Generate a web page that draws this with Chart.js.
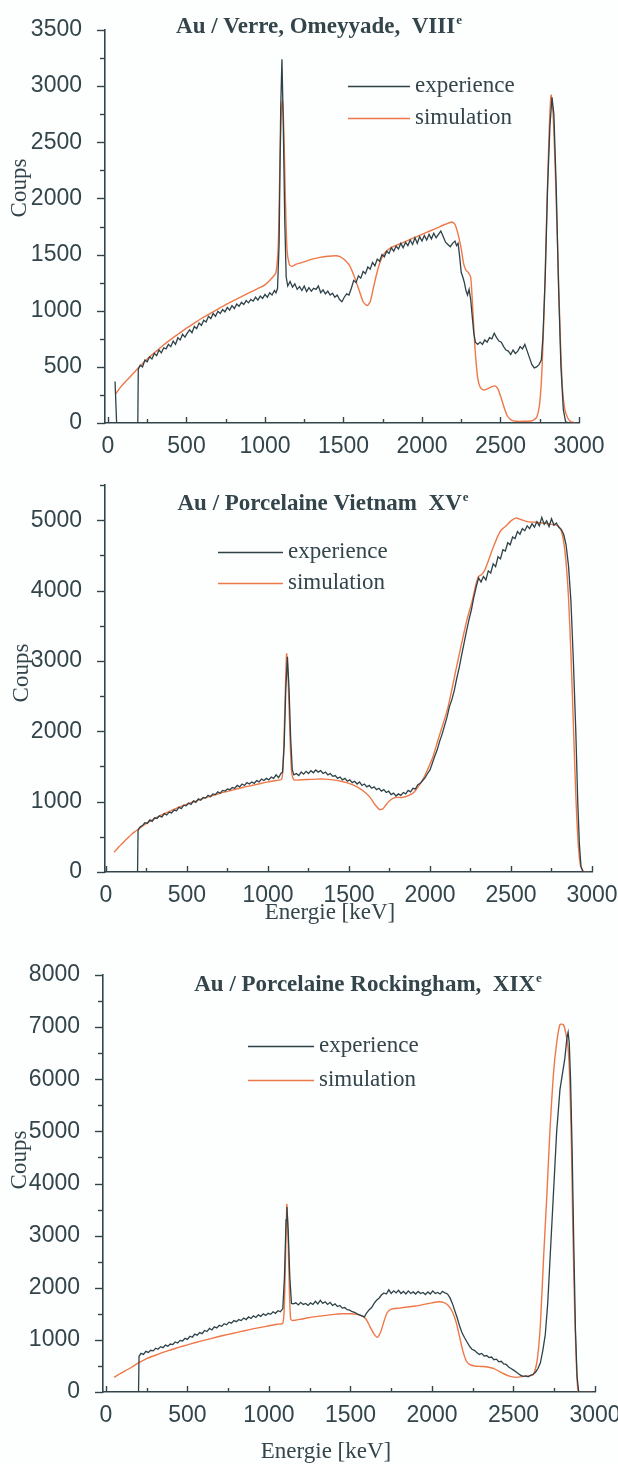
<!DOCTYPE html>
<html>
<head>
<meta charset="utf-8">
<script src="https://cdn.jsdelivr.net/npm/chart.js@4/dist/chart.umd.min.js"></script>
<style>
  body { margin: 0; background: #fdfefe; width: 618px; height: 1464px; overflow: hidden; }
  canvas { position: absolute; left: 0; }
</style>
</head>
<body>
<canvas id="verre" width="618" height="470" style="top:0px"></canvas>
<canvas id="vietnam" width="618" height="465" style="top:470px"></canvas>
<canvas id="rockingham" width="618" height="529" style="top:935px"></canvas>
<script>
'use strict';

const energyTicks = [0, 500, 1000, 1500, 2000, 2500, 3000];
const seriesLabels = ['experience', 'simulation'];

// Au / Verre, Omeyyade  [keV, coups]
const verreExp = [[45,370],[55,0],[190,0],[193,480],[205,515],[220,500],[235,560],[250,545],[265,590],[280,570],[295,620],[310,600],[325,650],[340,625],[355,670],[370,660],[385,700],[400,680],[415,730],[430,700],[445,760],[460,740],[475,790],[490,765],[505,800],[520,830],[535,805],[550,860],[565,840],[580,890],[595,870],[610,915],[625,900],[640,950],[655,930],[670,975],[685,950],[700,995],[715,975],[730,1010],[745,990],[760,1030],[775,1005],[790,1045],[805,1020],[820,1060],[835,1040],[850,1075],[865,1055],[880,1090],[895,1070],[910,1100],[925,1085],[940,1120],[955,1095],[970,1130],[985,1110],[1000,1145],[1015,1120],[1030,1160],[1045,1140],[1060,1180],[1070,1160],[1080,1200],[1090,1600],[1100,2800],[1108,3240],[1116,2700],[1126,1800],[1135,1300],[1145,1220],[1160,1260],[1175,1210],[1190,1240],[1205,1190],[1220,1215],[1235,1180],[1250,1220],[1265,1170],[1280,1205],[1295,1175],[1310,1200],[1325,1190],[1340,1220],[1355,1160],[1370,1185],[1385,1150],[1400,1175],[1415,1140],[1430,1155],[1445,1120],[1460,1140],[1475,1100],[1490,1080],[1505,1120],[1520,1150],[1535,1140],[1550,1200],[1565,1270],[1580,1250],[1595,1310],[1610,1290],[1625,1350],[1640,1330],[1655,1390],[1670,1370],[1685,1430],[1700,1400],[1715,1460],[1730,1440],[1745,1500],[1760,1480],[1775,1530],[1790,1510],[1805,1560],[1820,1530],[1835,1575],[1850,1550],[1865,1600],[1880,1560],[1895,1610],[1910,1580],[1925,1630],[1940,1590],[1955,1650],[1970,1600],[1985,1660],[2000,1620],[2015,1670],[2030,1630],[2045,1680],[2060,1640],[2075,1690],[2090,1650],[2105,1680],[2120,1710],[2135,1660],[2150,1610],[2165,1590],[2180,1570],[2195,1600],[2210,1620],[2220,1580],[2230,1600],[2240,1480],[2250,1340],[2260,1300],[2270,1250],[2280,1180],[2290,1140],[2300,1190],[2310,1100],[2320,950],[2330,800],[2340,720],[2355,700],[2370,720],[2385,700],[2400,740],[2415,720],[2430,760],[2445,750],[2460,800],[2475,760],[2490,730],[2505,720],[2520,680],[2535,650],[2550,640],[2565,610],[2580,650],[2595,620],[2610,640],[2625,680],[2640,660],[2655,700],[2670,640],[2685,580],[2700,520],[2715,490],[2730,500],[2745,520],[2760,560],[2770,760],[2785,1300],[2800,2100],[2815,2650],[2828,2900],[2840,2750],[2855,2100],[2870,1200],[2885,500],[2900,120],[2915,10],[2940,0],[2980,0]];
const verreSim = [[50,260],[80,320],[120,380],[160,440],[200,500],[250,570],[300,630],[350,690],[400,745],[450,795],[500,845],[550,890],[600,935],[650,975],[700,1015],[750,1055],[800,1090],[850,1125],[900,1160],[950,1195],[1000,1230],[1050,1300],[1070,1340],[1085,1600],[1095,2300],[1105,2800],[1112,2870],[1120,2600],[1130,2000],[1140,1550],[1155,1410],[1170,1395],[1200,1415],[1250,1435],[1300,1460],[1350,1475],[1400,1485],[1450,1490],[1480,1480],[1510,1450],[1540,1400],[1570,1300],[1600,1180],[1625,1080],[1650,1045],[1670,1080],[1690,1200],[1710,1320],[1730,1420],[1760,1510],[1800,1560],[1850,1590],[1900,1620],[1950,1650],[2000,1680],[2050,1710],[2100,1740],[2150,1770],[2190,1790],[2210,1770],[2230,1680],[2250,1550],[2265,1420],[2280,1360],[2295,1340],[2310,1300],[2320,1100],[2330,850],[2340,620],[2355,400],[2370,320],[2390,295],[2410,300],[2440,320],[2465,330],[2485,300],[2505,220],[2525,130],[2545,60],[2570,25],[2600,15],[2650,15],[2700,20],[2730,50],[2750,180],[2765,500],[2780,1100],[2795,1900],[2810,2600],[2822,2920],[2835,2750],[2850,2200],[2865,1500],[2880,800],[2895,300],[2910,120],[2930,40],[2950,10],[2980,0]];

// Au / Porcelaine Vietnam
const vietnamExp = [[50,0],[195,0],[198,590],[210,640],[225,660],[240,700],[255,690],[270,740],[285,720],[300,770],[315,760],[330,800],[345,780],[360,830],[375,810],[390,850],[405,840],[420,880],[435,870],[450,920],[465,900],[480,950],[495,940],[510,980],[525,960],[540,1010],[555,990],[570,1040],[585,1020],[600,1060],[615,1050],[630,1090],[645,1070],[660,1110],[675,1100],[690,1140],[705,1120],[720,1160],[735,1150],[750,1180],[765,1170],[780,1200],[795,1190],[810,1230],[825,1210],[840,1250],[855,1230],[870,1270],[885,1250],[900,1280],[915,1260],[930,1300],[945,1280],[960,1320],[975,1300],[990,1330],[1005,1310],[1020,1350],[1035,1330],[1050,1380],[1065,1340],[1080,1400],[1090,1420],[1100,1800],[1110,2600],[1120,3060],[1130,2600],[1140,1900],[1150,1450],[1160,1380],[1175,1400],[1190,1370],[1205,1420],[1220,1390],[1235,1430],[1250,1400],[1265,1440],[1280,1410],[1295,1450],[1310,1420],[1325,1440],[1340,1400],[1355,1420],[1370,1380],[1385,1400],[1400,1360],[1415,1370],[1430,1330],[1445,1350],[1460,1310],[1475,1330],[1490,1290],[1505,1310],[1520,1270],[1535,1290],[1550,1250],[1565,1280],[1580,1230],[1595,1250],[1610,1210],[1625,1230],[1640,1190],[1655,1210],[1670,1170],[1685,1190],[1700,1150],[1715,1170],[1730,1130],[1745,1150],[1760,1100],[1775,1120],[1790,1080],[1805,1110],[1820,1090],[1835,1130],[1850,1110],[1865,1160],[1880,1140],[1895,1190],[1910,1180],[1925,1240],[1940,1260],[1955,1300],[1970,1340],[1985,1400],[2000,1450],[2015,1550],[2030,1650],[2045,1740],[2060,1860],[2075,1960],[2090,2080],[2105,2200],[2120,2350],[2135,2450],[2150,2580],[2165,2750],[2180,2900],[2195,3080],[2210,3250],[2225,3420],[2240,3580],[2255,3720],[2270,3900],[2285,4050],[2300,4180],[2315,4120],[2330,4200],[2345,4150],[2360,4280],[2375,4250],[2390,4380],[2405,4340],[2420,4480],[2435,4450],[2450,4580],[2465,4560],[2480,4680],[2495,4650],[2510,4760],[2525,4740],[2540,4840],[2555,4800],[2570,4880],[2585,4850],[2600,4920],[2615,4880],[2630,4950],[2645,4900],[2660,4980],[2675,4920],[2690,5040],[2705,4940],[2720,4990],[2735,4910],[2750,5020],[2765,4930],[2780,4960],[2795,4900],[2810,4870],[2825,4800],[2840,4650],[2855,4350],[2870,3850],[2885,3000],[2900,2000],[2912,1000],[2922,400],[2932,80],[2945,0],[2980,0]];
const vietnamSim = [[50,280],[80,360],[120,450],[160,540],[200,610],[250,690],[300,760],[350,820],[400,870],[450,920],[500,965],[550,1005],[600,1045],[650,1080],[700,1115],[750,1145],[800,1175],[850,1205],[900,1230],[950,1255],[1000,1280],[1050,1300],[1085,1320],[1095,1600],[1105,2400],[1115,3100],[1125,2700],[1135,2000],[1145,1450],[1160,1310],[1200,1310],[1250,1315],[1300,1320],[1350,1320],[1400,1310],[1450,1290],[1500,1260],[1550,1210],[1600,1130],[1630,1060],[1660,960],[1690,885],[1710,900],[1730,960],[1760,1030],[1790,1060],[1830,1060],[1870,1090],[1900,1130],[1930,1220],[1960,1330],[1990,1480],[2020,1650],[2050,1880],[2080,2100],[2110,2330],[2140,2650],[2170,2980],[2200,3300],[2230,3600],[2260,3850],[2285,4100],[2300,4200],[2320,4230],[2340,4300],[2360,4420],[2380,4550],[2400,4670],[2420,4780],[2440,4860],[2470,4920],[2500,4990],[2530,5030],[2560,5010],[2600,4980],[2650,4970],[2700,4960],[2750,4940],[2790,4920],[2810,4850],[2825,4700],[2840,4400],[2855,3900],[2870,3100],[2885,2100],[2900,1100],[2915,400],[2930,80],[2950,0],[2980,0]];

// Au / Porcelaine Rockingham
const rockinghamExp = [[50,0],[200,0],[203,685],[215,740],[230,720],[245,780],[260,760],[275,800],[290,790],[305,840],[320,820],[335,870],[350,850],[365,900],[380,880],[395,920],[410,910],[425,960],[440,940],[455,990],[470,980],[485,1030],[500,1010],[515,1070],[530,1050],[545,1110],[560,1090],[575,1140],[590,1120],[605,1180],[620,1160],[635,1220],[650,1190],[665,1250],[680,1230],[695,1280],[710,1260],[725,1310],[740,1290],[755,1340],[770,1320],[785,1370],[800,1350],[815,1390],[830,1370],[845,1420],[860,1390],[875,1440],[890,1410],[905,1460],[920,1430],[935,1480],[950,1450],[965,1500],[980,1470],[995,1510],[1010,1490],[1025,1540],[1040,1510],[1055,1560],[1070,1540],[1085,1600],[1095,2200],[1105,3300],[1110,3550],[1118,3100],[1128,2200],[1138,1700],[1150,1690],[1165,1710],[1180,1670],[1195,1720],[1210,1680],[1225,1700],[1240,1660],[1255,1710],[1270,1680],[1285,1740],[1300,1690],[1315,1760],[1330,1700],[1345,1730],[1360,1680],[1375,1720],[1390,1660],[1405,1690],[1420,1640],[1435,1660],[1450,1610],[1465,1620],[1480,1580],[1495,1570],[1510,1540],[1525,1530],[1540,1500],[1555,1480],[1570,1460],[1585,1440],[1600,1520],[1615,1580],[1630,1620],[1645,1700],[1660,1760],[1675,1800],[1690,1860],[1705,1900],[1720,1880],[1735,1960],[1750,1890],[1765,1940],[1780,1900],[1795,1950],[1810,1890],[1825,1930],[1840,1880],[1855,1940],[1870,1890],[1885,1920],[1900,1880],[1915,1930],[1930,1890],[1945,1910],[1960,1870],[1975,1920],[1990,1880],[2005,1940],[2020,1890],[2035,1910],[2050,1880],[2065,1930],[2080,1900],[2095,1880],[2110,1810],[2125,1700],[2140,1560],[2155,1420],[2170,1260],[2185,1130],[2200,1040],[2215,960],[2230,880],[2245,820],[2260,800],[2275,760],[2290,720],[2305,740],[2320,690],[2335,700],[2350,660],[2365,670],[2380,620],[2395,630],[2410,580],[2425,590],[2440,540],[2455,530],[2470,480],[2485,450],[2500,420],[2515,390],[2530,350],[2545,320],[2560,300],[2575,310],[2590,290],[2605,320],[2620,340],[2635,380],[2650,450],[2665,560],[2680,800],[2695,1100],[2710,1700],[2725,2600],[2740,3500],[2755,4400],[2765,5000],[2785,5800],[2800,6100],[2815,6400],[2828,6800],[2835,6900],[2842,6700],[2850,6000],[2860,4600],[2870,2800],[2880,1200],[2890,300],[2900,0],[2980,0]];
const rockinghamSim = [[50,280],[80,340],[120,410],[160,480],[200,560],[250,640],[300,700],[350,760],[400,810],[450,860],[500,905],[550,950],[600,990],[650,1030],[700,1070],[750,1105],[800,1140],[850,1175],[900,1210],[950,1240],[1000,1270],[1050,1300],[1085,1320],[1095,1700],[1103,2800],[1110,3600],[1117,3000],[1125,2000],[1133,1400],[1145,1370],[1200,1400],[1250,1430],[1300,1450],[1350,1470],[1400,1490],[1450,1500],[1500,1500],[1540,1490],[1570,1460],[1595,1400],[1620,1250],[1645,1110],[1665,1050],[1685,1150],[1705,1350],[1725,1520],[1750,1590],[1800,1610],[1850,1630],[1900,1650],[1950,1680],[2000,1710],[2040,1730],[2070,1720],[2100,1660],[2125,1540],[2150,1320],[2170,1050],[2190,780],[2210,600],[2230,530],[2260,500],[2300,490],[2340,480],[2380,450],[2410,400],[2440,350],[2480,300],[2520,280],[2560,300],[2620,330],[2645,600],[2665,1300],[2685,2600],[2705,3800],[2725,5100],[2745,6100],[2765,6700],[2785,7050],[2805,7050],[2820,6900],[2835,6600],[2845,6000],[2855,4800],[2865,3000],[2875,1600],[2885,600],[2893,100],[2900,0],[2980,0]];

const inkColour = '#33454b';
const expColour = '#2e4248';
const simColour = '#ee7848';

function toPoints(pairs) {
    return pairs.map(p => ({x: p[0], y: p[1]}));
}

// ticks (major + minor), title, legend and axis titles
const panelDecor = {
    id: 'panelDecor',
    afterDraw(chart, args, o) {
        const ctx = chart.ctx;
        const xs = chart.scales.x;
        const ys = chart.scales.y;
        const area = chart.chartArea;
        ctx.save();
        ctx.strokeStyle = inkColour;
        ctx.lineWidth = 1.4;
        for (let v = 0; v <= ys.max + 0.1; v += o.yMinor) {
            const py = Math.round(ys.getPixelForValue(v)) + 0.5;
            const len = v % o.yMajor === 0 ? 8 : 5;
            ctx.beginPath();
            ctx.moveTo(area.left - len, py);
            ctx.lineTo(area.left, py);
            ctx.stroke();
        }
        for (let v = 0; v <= 3000; v += 250) {
            const px = Math.round(xs.getPixelForValue(v)) + 0.5;
            const len = v % 500 === 0 ? 6 : 4;
            ctx.beginPath();
            ctx.moveTo(px, area.bottom);
            ctx.lineTo(px, area.bottom - len);
            ctx.stroke();
        }

        // title with superscript
        ctx.fillStyle = inkColour;
        ctx.textBaseline = 'alphabetic';
        ctx.font = 'bold 23px "Liberation Serif"';
        const mainW = ctx.measureText(o.title).width;
        ctx.font = 'bold 13px "Liberation Serif"';
        const supW = ctx.measureText(o.sup).width;
        let tx = o.titleX - (mainW + supW + 1) / 2;
        ctx.font = 'bold 23px "Liberation Serif"';
        ctx.textAlign = 'left';
        ctx.fillText(o.title, tx, o.titleY + 8);
        ctx.font = 'bold 13px "Liberation Serif"';
        ctx.fillText(o.sup, tx + mainW + 1, o.titleY - 1);

        // legend
        ctx.font = '23px "Liberation Serif"';
        ctx.textBaseline = 'middle';
        chart.data.datasets.forEach((ds, i) => {
            const ly = o.legendY[i];
            ctx.strokeStyle = ds.borderColor;
            ctx.lineWidth = 1.3;
            ctx.beginPath();
            ctx.moveTo(o.legendX[0], ly + 0.5);
            ctx.lineTo(o.legendX[1], ly + 0.5);
            ctx.stroke();
            ctx.fillStyle = inkColour;
            ctx.fillText(ds.label, o.legendX[1] + 5, ly);
        });

        // axis titles
        ctx.textAlign = 'center';
        ctx.save();
        ctx.translate(o.coupsX, o.coupsY);
        ctx.rotate(-Math.PI / 2);
        ctx.fillText('Coups', 0, 0);
        ctx.restore();
        if (o.energyY) {
            ctx.fillText('Energie [keV]', o.energyX, o.energyY);
        }
        ctx.restore();
    }
};

function makePanel(id, p) {
    const canvas = document.getElementById(id);
    const xAxisHeight = 40;
    const config = {
        type: 'line',
        data: {
            datasets: [{
                label: seriesLabels[0],
                data: toPoints(p.exp),
                borderColor: expColour,
                borderWidth: 1.3,
                pointRadius: 0,
                tension: 0
            }, {
                label: seriesLabels[1],
                data: toPoints(p.sim),
                borderColor: simColour,
                borderWidth: 1.4,
                pointRadius: 0,
                tension: 0.2
            }]
        },
        options: {
            responsive: false,
            animation: false,
            devicePixelRatio: 1,
            layout: {
                autoPadding: false,
                padding: {
                    left: 0,
                    top: p.top,
                    right: canvas.width - p.right,
                    bottom: canvas.height - p.bottom - xAxisHeight
                }
            },
            plugins: {
                legend: {display: false},
                tooltip: {enabled: false},
                panelDecor: p.decor
            },
            scales: {
                x: {
                    type: 'linear',
                    min: p.xMin,
                    max: 3000,
                    grid: {display: false},
                    border: {display: true, color: inkColour, width: 1.6},
                    afterBuildTicks: scale => {
                        scale.ticks = energyTicks.map(v => ({value: v}));
                    },
                    afterFit: scale => {
                        scale.height = xAxisHeight;
                        scale.paddingLeft = 0;
                        scale.paddingRight = 0;
                    },
                    ticks: {
                        autoSkip: false,
                        maxRotation: 0,
                        padding: 2,
                        color: inkColour,
                        font: {family: '"Liberation Sans"', size: 23},
                        callback: v => String(v)
                    }
                },
                y: {
                    min: 0,
                    max: p.yMax,
                    grid: {display: false},
                    border: {display: true, color: inkColour, width: 1.6},
                    afterBuildTicks: scale => {
                        scale.ticks = p.yTicks.map(v => ({value: v}));
                    },
                    afterFit: scale => {
                        scale.width = p.left;
                        scale.paddingTop = 0;
                        scale.paddingBottom = 0;
                    },
                    ticks: {
                        padding: 15,
                        color: inkColour,
                        font: {family: '"Liberation Sans"', size: 23},
                        callback: v => String(v)
                    }
                }
            }
        },
        plugins: [panelDecor]
    };
    return new Chart(canvas, config);
}

makePanel('verre', {
    exp: verreExp, sim: verreSim,
    left: 105, right: 579, top: 30, bottom: 423,
    xMin: -19, yMax: 3500,
    yTicks: [0, 500, 1000, 1500, 2000, 2500, 3000, 3500],
    decor: {
        yMinor: 250, yMajor: 500,
        title: 'Au / Verre, Omeyyade,  VIII', sup: 'e', titleX: 319, titleY: 25,
        legendX: [348, 410], legendY: [86, 118],
        coupsX: 20, coupsY: 188
    }
});

makePanel('vietnam', {
    exp: vietnamExp, sim: vietnamSim,
    left: 105, right: 592, top: 15, bottom: 402,
    xMin: -6, yMax: 5500,
    yTicks: [0, 1000, 2000, 3000, 4000, 5000],
    decor: {
        yMinor: 500, yMajor: 1000,
        title: 'Au / Porcelaine Vietnam  XV', sup: 'e', titleX: 323, titleY: 32,
        legendX: [218, 283], legendY: [82, 113],
        coupsX: 22, coupsY: 203,
        energyX: 330, energyY: 443
    }
});

makePanel('rockingham', {
    exp: rockinghamExp, sim: rockinghamSim,
    left: 103, right: 595, top: 40, bottom: 457,
    xMin: -18, yMax: 8000,
    yTicks: [0, 1000, 2000, 3000, 4000, 5000, 6000, 7000, 8000],
    decor: {
        yMinor: 500, yMajor: 1000,
        title: 'Au / Porcelaine Rockingham,  XIX', sup: 'e', titleX: 368, titleY: 48,
        legendX: [248, 314], legendY: [111, 145],
        coupsX: 20, coupsY: 225,
        energyX: 326, energyY: 517
    }
});
</script>
</body>
</html>
